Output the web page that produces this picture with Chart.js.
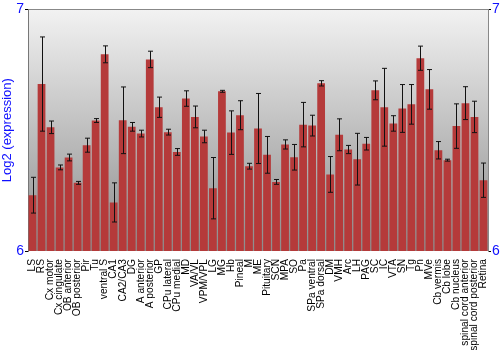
<!DOCTYPE html>
<html>
<head>
<meta charset="utf-8">
<script src="https://cdn.jsdelivr.net/npm/chart.js@4"></script>
<style>
  body { margin: 0; background: #fff; }
  #wrap { width: 500px; height: 350px; }
</style>
</head>
<body>
<div id="wrap"><canvas id="chart" width="500" height="350"></canvas></div>
<script>
const regions = ['LS', 'RS', 'Cx motor', 'Cx cingulate', 'OB anterior', 'OB posterior', 'Pir', 'Tu',
  'ventral S', 'CA1', 'CA2/CA3', 'DG', 'A anterior', 'A posterior', 'GP', 'CPu lateral', 'CPu medial',
  'MD', 'VA/VL', 'VPM/VPL', 'LG', 'MG', 'Hb', 'Pineal', 'M', 'ME', 'Pituitary', 'SCN', 'MPA', 'SO',
  'Pa', 'SPa ventral', 'SPa dorsal', 'DM', 'VMH', 'Arc', 'LH', 'PAG', 'SC', 'IC', 'VTA', 'SN', 'Tg',
  'Pn', 'MVe', 'Cb vermis', 'Cb lobe', 'Cb nucleus', 'spinal cord anterior', 'spinal cord posterior', 'Retina'];

const expression = [6.231, 6.691, 6.512, 6.346, 6.387, 6.282, 6.438, 6.540,
  6.814, 6.201, 6.541, 6.514, 6.486, 6.793, 6.595, 6.492, 6.410,
  6.631, 6.555, 6.474, 6.260, 6.661, 6.490, 6.562, 6.351, 6.507, 6.398, 6.286, 6.441, 6.388,
  6.523, 6.519, 6.694, 6.317, 6.481, 6.420, 6.380, 6.444, 6.665, 6.595, 6.528, 6.590, 6.607,
  6.798, 6.669, 6.417, 6.376, 6.517, 6.612, 6.555, 6.293];

const stdError = [0.074, 0.195, 0.026, 0.010, 0.014, 0.006, 0.029, 0.008,
  0.035, 0.081, 0.138, 0.018, 0.014, 0.034, 0.042, 0.012, 0.014,
  0.032, 0.045, 0.026, 0.127, 0.004, 0.090, 0.060, 0.012, 0.145, 0.076, 0.010, 0.019, 0.053,
  0.092, 0.043, 0.011, 0.074, 0.066, 0.017, 0.107, 0.026, 0.039, 0.161, 0.032, 0.099, 0.082,
  0.050, 0.082, 0.036, 0.004, 0.092, 0.068, 0.065, 0.071];

const yTicks = [6, 7];

// grey vertical gradient behind the bars
const backdrop = {
  id: 'backdrop',
  beforeDraw(chart) {
    const { ctx, chartArea: a } = chart;
    const g = ctx.createLinearGradient(0, a.top, 0, a.bottom);
    g.addColorStop(0, '#f2f2f2');
    g.addColorStop(1, '#8c8c8c');
    ctx.save();
    ctx.fillStyle = g;
    ctx.fillRect(a.left, a.top, a.right - a.left, a.bottom - a.top);
    ctx.restore();
  }
};

// error bars drawn from the y scale
const errorBars = {
  id: 'errorBars',
  afterDatasetsDraw(chart) {
    const { ctx } = chart;
    const y = chart.scales.y;
    const meta = chart.getDatasetMeta(0);
    ctx.save();
    ctx.strokeStyle = '#111';
    ctx.lineWidth = 1;
    meta.data.forEach((bar, i) => {
      const x = Math.round(bar.x) + 0.5;
      const top = y.getPixelForValue(expression[i] + stdError[i]);
      const bot = y.getPixelForValue(expression[i] - stdError[i]);
      ctx.beginPath();
      ctx.moveTo(x, top);
      ctx.lineTo(x, bot);
      ctx.moveTo(x - 2.5, top);
      ctx.lineTo(x + 2.5, top);
      ctx.moveTo(x - 2.5, bot);
      ctx.lineTo(x + 2.5, bot);
      ctx.stroke();
    });
    ctx.restore();
  }
};

function barFill(c) {
  const chart = c.chart;
  const el = c.element;
  if (!chart.chartArea || !el || el.width == null) return '#b53a3a';
  const half = el.width / 2;
  const g = chart.ctx.createLinearGradient(el.x - half, 0, el.x + half, 0);
  g.addColorStop(0, '#8a1a1a');
  g.addColorStop(0.35, '#c44646');
  g.addColorStop(0.6, '#bb3e3e');
  g.addColorStop(1, '#761414');
  return g;
}

const blue = '#1010ff';

new Chart(document.getElementById('chart'), {
  type: 'bar',
  data: {
    labels: regions,
    datasets: [{
      data: expression,
      backgroundColor: barFill,
      borderWidth: 0,
      barPercentage: 0.86,
      categoryPercentage: 1
    }]
  },
  options: {
    responsive: false,
    animation: false,
    layout: { padding: { top: 2, right: 0, left: 0, bottom: 0 } },
    plugins: { legend: { display: false }, tooltip: { enabled: false } },
    scales: {
      x: {
        grid: { display: false },
        border: { display: false },
        ticks: {
          autoSkip: false,
          maxRotation: 90,
          minRotation: 90,
          padding: 0,
          color: '#000',
          font: { family: 'Liberation Sans, Arial', size: 10.2 }
        },
        afterFit(s) { s.height = 99; }
      },
      y: {
        min: 6,
        max: 7,
        afterBuildTicks(s) { s.ticks = yTicks.map(v => ({ value: v })); },
        grid: {
          drawOnChartArea: true,
          color: c => c.tick && c.tick.value === 7 ? '#888' : 'rgba(0,0,0,0)',
          tickColor: '#000',
          tickLength: 3
        },
        border: { display: true, color: '#777' },
        ticks: {
          color: blue,
          padding: 1,
          font: { family: 'Liberation Sans, Arial', size: 14 }
        },
        title: {
          display: true,
          text: 'Log2 (expression)',
          color: blue,
          padding: 0,
          font: { family: 'Liberation Sans, Arial', size: 13 }
        },
        afterFit(s) { s.width = 28; }
      },
      y2: {
        position: 'right',
        min: 6,
        max: 7,
        afterBuildTicks(s) { s.ticks = yTicks.map(v => ({ value: v })); },
        grid: { drawOnChartArea: false, tickColor: '#000', tickLength: 3 },
        border: { display: true, color: '#888' },
        ticks: {
          color: blue,
          padding: 1,
          font: { family: 'Liberation Sans, Arial', size: 14 }
        },
        afterFit(s) { s.width = 12; }
      }
    }
  },
  plugins: [backdrop, errorBars]
});
</script>
</body>
</html>
